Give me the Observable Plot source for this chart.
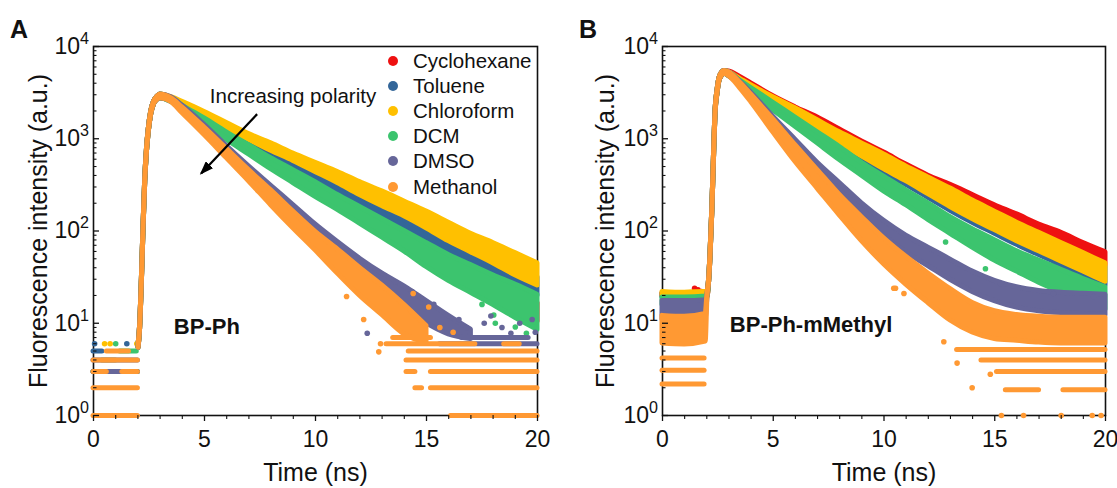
<!DOCTYPE html>
<html><head><meta charset="utf-8">
<script src="https://cdn.jsdelivr.net/npm/d3@7"></script>
<script src="https://cdn.jsdelivr.net/npm/@observablehq/plot@0.6"></script>
<style>
body{margin:0;background:#fff;}
#wrap{position:relative;width:1117px;height:488px;font-family:"Liberation Sans",Arial,sans-serif;color:#111;overflow:hidden;}
.panel{position:absolute;top:0;}
.letter{position:absolute;font-weight:bold;font-size:25px;line-height:25px;}
.legend{position:absolute;left:388px;top:48px;font-size:20.5px;}
.legend div{height:25.2px;display:flex;align-items:center;white-space:nowrap;}
.legend span.dot{width:10px;height:10px;border-radius:50%;display:inline-block;margin-right:15px;}
</style></head><body>
<div id="wrap">
  <div id="pA" class="panel" style="left:0"></div>
  <div id="pB" class="panel" style="left:560px"></div>
  <div class="letter" style="left:10px;top:17px">A</div>
  <div class="letter" style="left:579px;top:17px">B</div>
  <div class="legend" id="legend"></div>
</div>
<script>
// ---------- categories / colours ----------
const solvents = ["Cyclohexane","Toluene","Chloroform","DCM","DMSO","Methanol"];
const colors   = ["#ee1111","#336699","#ffc000","#3cc46e","#666699","#ff9933"];

// ---------- axes ----------
const xMajorTicks = [0,5,10,15,20];
const xMinorTicks = [1,2,3,4,6,7,8,9,11,12,13,14,16,17,18,19];
const yMajorTicks = [1,10,100,1000,10000];
const yMinorTicks = [2,3,4,5,6,7,8,9,20,30,40,50,60,70,80,90,200,300,400,500,600,700,800,900,2000,3000,4000,5000,6000,7000,8000,9000];

// ---------- decay grid (ns) shared by both panels ----------
const decayTimes = [3,3.5,4,5,6,7,8,9,10,11,12,13,14,15,16,17,18,19,20];

// ---------- Panel A : BP-Ph (values are log10 counts: centre and spread) ----------
const riseTimesA = [2.03,2.1,2.18,2.25,2.33,2.41,2.49,2.6,2.73,2.88];
const riseLogA   = [0.75,0.96,1.47,2.01,2.55,2.88,3.09,3.28,3.39,3.44];
const A_Cyclohexane    = [3.46,3.42,3.34,3.19,3.03,2.88,2.73,2.59,2.45,2.31,2.17,2.03,1.89,1.74,1.60,1.48,1.36,1.24,1.12];
const A_Cyclohexane_sd = [0.01,0.01,0.01,0.02,0.02,0.03,0.03,0.04,0.04,0.05,0.05,0.06,0.06,0.07,0.08,0.08,0.09,0.10,0.10];
const A_Toluene        = [3.46,3.42,3.36,3.23,3.09,2.95,2.82,2.70,2.57,2.44,2.31,2.18,2.05,1.92,1.80,1.69,1.59,1.49,1.40];
const A_Toluene_sd     = [0.02,0.02,0.02,0.03,0.03,0.04,0.04,0.05,0.05,0.06,0.06,0.07,0.07,0.08,0.08,0.09,0.09,0.10,0.10];
const A_Chloroform     = [3.46,3.43,3.38,3.26,3.14,3.02,2.91,2.80,2.69,2.58,2.46,2.35,2.24,2.12,1.99,1.87,1.76,1.64,1.53];
const A_Chloroform_sd  = [0.02,0.02,0.02,0.03,0.03,0.03,0.04,0.04,0.05,0.06,0.07,0.08,0.08,0.09,0.10,0.10,0.11,0.12,0.12];
const A_DCM            = [3.46,3.42,3.34,3.19,3.03,2.88,2.73,2.59,2.45,2.31,2.17,2.03,1.89,1.74,1.60,1.48,1.36,1.24,1.12];
const A_DCM_sd         = [0.02,0.02,0.02,0.03,0.04,0.05,0.06,0.07,0.08,0.08,0.09,0.10,0.11,0.13,0.14,0.15,0.16,0.18,0.19];
const A_DMSO           = [3.46,3.43,3.34,3.12,2.89,2.66,2.44,2.22,2.00,1.80,1.61,1.44,1.29,1.12,0.98,0.88];
const A_DMSO_sd        = [0.02,0.02,0.02,0.03,0.03,0.04,0.05,0.06,0.07,0.08,0.09,0.10,0.11,0.12,0.10,0.05];
const A_Methanol       = [3.46,3.42,3.31,3.08,2.84,2.60,2.36,2.12,1.89,1.67,1.45,1.25,1.04,0.88];
const A_Methanol_sd    = [0.02,0.02,0.03,0.04,0.05,0.06,0.08,0.09,0.10,0.13,0.15,0.16,0.16,0.09];
// quantised count rows: [solvent index, counts, t start, t end]
const A_rows = [
  [1,3,0,2.0],[1,5,0,0.4],[3,3,0,2.0],[3,5,1.2,1.95],[2,4,0.4,1.0],[4,3,0,2.0],[4,4,0,2.0],
  [5,1,0,2.0],[5,2,0,2.0],[5,3,0,0.6],[5,3,1.3,2.0],[5,4,0,2.0],[5,5,0.6,1.6],
  [4,6,15.6,20],[4,7,16.6,19.6],
  [5,1,16.1,20],[5,2,14.5,14.8],[5,2,15.2,20],[5,3,14.1,14.5],[5,3,15.2,20],[5,4,14.1,20],[5,5,14.2,20],
  [5,6,13.2,17.2],[5,6,18.5,19.2],[5,7,13.5,15.2]
];
// isolated points: [solvent index, t, counts]
const A_points = [
  [1,0.05,6],[2,0.5,6],[2,0.75,6],[3,1.0,6],[1,1.5,6],[2,1.95,6],
  [1,17.3,38],[1,19.4,22],
  [3,17.5,16],[3,18.03,12.3],[3,18.1,10],[3,19.0,9.1],[3,19.5,7.8],
  [4,12.33,7.8],[4,13.6,28],[4,14.35,22],[4,15.33,16],[4,16.46,11],[4,16.8,9],[4,17.6,10],[4,17.9,12],
  [4,18.4,9],[4,18.8,7.8],[4,19.2,10],[4,19.76,11],[4,19.9,8],
  [5,11.4,19.5],[5,12.17,11],[5,12.85,4.9],[5,12.93,6],[5,14.4,21],[5,15.1,15],[5,15.6,9],[5,16.2,8]
];

// ---------- Panel B : BP-Ph-mMethyl ----------
const preTimesB  = [0,1,1.95];
const riseTimesB = [2.03,2.1,2.17,2.25,2.32,2.4,2.48,2.56,2.66,2.8];
const riseLogB   = [1.30,1.45,1.75,2.23,2.77,3.31,3.50,3.63,3.69,3.72];
const B_pre_Cyclohexane = [1.31,1.31,1.32];
const B_pre_Toluene     = [1.30,1.30,1.31];
const B_pre_Chloroform  = [1.32,1.31,1.32];
const B_pre_DCM         = [1.24,1.24,1.25];
const B_pre_DMSO        = [1.14,1.14,1.15];
const B_pre_Methanol    = [0.93,0.92,0.95];
const B_pre_sd          = [0.015,0.02,0.02,0.04,0.10,0.15];
const B_Cyclohexane    = [3.71,3.65,3.58,3.44,3.32,3.20,3.07,2.94,2.81,2.68,2.56,2.45,2.34,2.23,2.12,2.01,1.91,1.80,1.70];
const B_Cyclohexane_sd = [0.02,0.02,0.02,0.02,0.02,0.03,0.03,0.03,0.04,0.04,0.04,0.05,0.05,0.05,0.06,0.06,0.07,0.07,0.07];
const B_Toluene        = [3.70,3.62,3.53,3.39,3.25,3.11,2.97,2.84,2.71,2.58,2.45,2.32,2.19,2.07,1.95,1.84,1.73,1.62,1.51];
const B_Toluene_sd     = [0.02,0.02,0.03,0.03,0.04,0.05,0.06,0.07,0.08,0.08,0.09,0.10,0.10,0.10,0.10,0.10,0.10,0.10,0.10];
const B_Chloroform     = [3.70,3.63,3.55,3.42,3.29,3.15,3.01,2.88,2.75,2.62,2.49,2.36,2.23,2.11,1.99,1.88,1.77,1.66,1.55];
const B_Chloroform_sd  = [0.02,0.02,0.03,0.03,0.04,0.05,0.06,0.07,0.08,0.08,0.09,0.10,0.10,0.10,0.10,0.10,0.10,0.10,0.10];
const B_DCM            = [3.70,3.61,3.52,3.35,3.18,3.01,2.84,2.67,2.51,2.36,2.21,2.06,1.92,1.79,1.67,1.56,1.46,1.36,1.27];
const B_DCM_sd         = [0.02,0.02,0.03,0.04,0.05,0.06,0.07,0.07,0.08,0.08,0.09,0.09,0.10,0.11,0.11,0.12,0.12,0.12,0.12];
const B_DMSO           = [3.70,3.60,3.47,3.20,2.94,2.67,2.44,2.22,2.03,1.86,1.72,1.58,1.45,1.35,1.28,1.24,1.22,1.21,1.20];
const B_DMSO_sd        = [0.02,0.02,0.03,0.04,0.05,0.07,0.08,0.08,0.08,0.09,0.10,0.11,0.11,0.11,0.11,0.11,0.11,0.11,0.11];
const B_Methanol       = [3.70,3.58,3.44,3.14,2.84,2.56,2.28,2.02,1.78,1.57,1.38,1.20,1.06,0.98,0.95,0.93,0.92,0.92,0.92];
const B_Methanol_sd    = [0.02,0.03,0.04,0.07,0.09,0.10,0.11,0.13,0.14,0.15,0.16,0.17,0.16,0.15,0.14,0.14,0.14,0.14,0.14];
const B_rows = [
  [5,2.2,0,1.9],[5,3.1,0,1.9],[5,4.2,0,1.9],
  [5,5.2,13.3,20],[5,4.0,14.4,20],[5,3.0,15.1,20],[5,1.9,15.5,17.0],[5,1.9,18.1,20]
];
const B_points = [
  [0,1.45,24],[0,1.6,23],[0,1.75,22],
  [1,17.07,45],[1,17.65,43],[1,19.46,25],
  [3,12.78,76],[3,14.63,81],[3,14.58,39],
  [4,15.26,27],[4,17.65,21],[4,19.46,19.5],
  [5,10.44,24],[5,10.52,24],[5,10.9,21],[5,12.7,6.3],[5,13.3,3.7],[5,13.98,2.0],[5,14.8,2.8],
  [5,15.3,1],[5,16.3,1],[5,18.0,1],[5,19.4,1],[5,19.8,1]
];

// ---------- annotation text ----------
const yTitle = "Fluorescence intensity (a.u.)";
const xTitle = "Time (ns)";
const A_annot = [{t:5.24, v:2845, label:"Increasing polarity"}];
const A_arrow = [{t1:7.37, v1:1849, t2:4.85, v2:421}];
const A_name = [{t:3.62, v:9.2, label:"BP-Ph"}];
const B_name = [{t:3.04, v:9.6, label:"BP-Ph-mMethyl"}];

// ---------- build band tables ----------
function band(pre, preSd, riseT, riseC, dec, decSd) {
  const pts = [];
  if (pre) pre.forEach((c, i) => pts.push({t: preTimesB[i], c, s: preSd}));
  riseT.forEach((t, i) => pts.push({t, c: riseC[i], s: 0.015}));
  dec.forEach((c, i) => pts.push({t: decayTimes[i], c, s: decSd[i]}));
  return pts.map(p => ({t: p.t, lo: 10 ** (p.c - p.s), hi: 10 ** (p.c + p.s)}));
}
const bandsA = [
  band(null,0,riseTimesA,riseLogA,A_Cyclohexane,A_Cyclohexane_sd),
  band(null,0,riseTimesA,riseLogA,A_Toluene,A_Toluene_sd),
  band(null,0,riseTimesA,riseLogA,A_Chloroform,A_Chloroform_sd),
  band(null,0,riseTimesA,riseLogA,A_DCM,A_DCM_sd),
  band(null,0,riseTimesA,riseLogA,A_DMSO,A_DMSO_sd),
  band(null,0,riseTimesA,riseLogA,A_Methanol,A_Methanol_sd)
];
const bandsB = [
  band(B_pre_Cyclohexane,B_pre_sd[0],riseTimesB,riseLogB,B_Cyclohexane,B_Cyclohexane_sd),
  band(B_pre_Toluene,B_pre_sd[1],riseTimesB,riseLogB,B_Toluene,B_Toluene_sd),
  band(B_pre_Chloroform,B_pre_sd[2],riseTimesB,riseLogB,B_Chloroform,B_Chloroform_sd),
  band(B_pre_DCM,B_pre_sd[3],riseTimesB,riseLogB,B_DCM,B_DCM_sd),
  band(B_pre_DMSO,B_pre_sd[4],riseTimesB,riseLogB,B_DMSO,B_DMSO_sd),
  band(B_pre_Methanol,B_pre_sd[5],riseTimesB,riseLogB,B_Methanol,B_Methanol_sd)
];

const FONT = "'Liberation Sans', Arial, Helvetica, sans-serif";

function makePanel(bands, rows, points, opts) {
  const marks = [Plot.frame({stroke: "#111", strokeWidth: 1.6})];
  solvents.forEach((name, i) => {
    const col = colors[i];
    marks.push(Plot.areaY(bands[i], {x: "t", y1: "lo", y2: "hi", fill: col, stroke: col,
      strokeWidth: 5, strokeLinejoin: "round", curve: "monotone-x"}));
    marks.push(Plot.ruleY(rows.filter(r => r[0] === i), {y: r => r[1], x1: r => r[2], x2: r => r[3],
      stroke: col, strokeWidth: 5, strokeLinecap: "round"}));
    marks.push(Plot.dot(points.filter(p => p[0] === i), {x: p => p[1], y: p => p[2], r: 2.8, fill: col}));
  });
  marks.push(
    Plot.axisY({ticks: yMajorTicks, tickSize: -6, tickFormat: () => "", strokeWidth: 1.3, label: null}),
    Plot.axisY({ticks: yMinorTicks, tickSize: -3.5, tickFormat: () => "", strokeWidth: 1.1, label: null}),
    Plot.axisY({ticks: yMajorTicks, tickSize: 0, tickPadding: 4.5, fontSize: 23,
      tickFormat: d => "10|" + Math.round(Math.log10(d)), label: null}),
    Plot.axisX({ticks: xMajorTicks, tickSize: 6, tickPadding: 9, fontSize: 23, strokeWidth: 1.3, label: null}),
    Plot.axisX({ticks: xMinorTicks, tickSize: 4, tickFormat: () => "", strokeWidth: 1.1, label: null}),
    Plot.text([yTitle], {text: d => d, frameAnchor: "left", dx: opts.yTitleDx, rotate: -90,
      fontSize: 25, textAnchor: "middle", lineAnchor: "middle"}),
    Plot.text([xTitle], {text: d => d, frameAnchor: "bottom", dy: 57, fontSize: 25,
      textAnchor: "middle", lineAnchor: "middle"}),
    Plot.text(opts.name, {x: "t", y: "v", text: "label", textAnchor: "start", lineAnchor: "middle",
      fontSize: 22, fontWeight: "bold"})
  );
  if (opts.annot) {
    marks.push(
      Plot.text(opts.annot, {x: "t", y: "v", text: "label", textAnchor: "start", lineAnchor: "middle", fontSize: 20.5}),
      Plot.link(opts.arrow, {x1: "t1", y1: "v1", x2: "t2", y2: "v2", stroke: "#000", strokeWidth: 2.2})
    );
  }
  const svg = Plot.plot({
    width: opts.width, height: 488,
    marginLeft: opts.ml, marginRight: opts.mr, marginTop: 46, marginBottom: 73,
    x: {domain: [0, 20]},
    y: {type: "log", domain: [1, 10000]},
    style: {fontFamily: FONT, color: "#111", background: "transparent", overflow: "visible"},
    marks
  });
  // superscript exponents on the log axis
  const ns = "http://www.w3.org/2000/svg";
  svg.querySelectorAll("text").forEach(t => {
    const m = /^10\|(\d)$/.exec(t.textContent);
    if (m) {
      t.textContent = "";
      const a = document.createElementNS(ns, "tspan"); a.textContent = "10"; t.appendChild(a);
      const b = document.createElementNS(ns, "tspan"); b.textContent = m[1];
      b.setAttribute("dy", "-0.62em"); b.setAttribute("font-size", "0.7em"); t.appendChild(b);
    }
  });
  // filled arrowhead
  if (opts.annot) {
    const defs = document.createElementNS(ns, "defs");
    defs.innerHTML = '<marker id="ahead" viewBox="0 -5 14 10" refX="12" refY="0" markerWidth="14" markerHeight="10" markerUnits="userSpaceOnUse" orient="auto"><path d="M0,-5L14,0L0,5Z" fill="#000"/></marker>';
    svg.insertBefore(defs, svg.firstChild);
    svg.querySelectorAll('g[aria-label="link"] path').forEach(p => p.setAttribute("marker-end", "url(#ahead)"));
  }
  return svg;
}

document.getElementById("pA").appendChild(makePanel(bandsA, A_rows, A_points,
  {width: 560, ml: 93, mr: 23, yTitleDx: -55, name: A_name, annot: A_annot, arrow: A_arrow}));
document.getElementById("pB").appendChild(makePanel(bandsB, B_rows, B_points,
  {width: 557, ml: 102, mr: 12, yTitleDx: -57, name: B_name}));

// legend (panel A, inside frame)
const leg = document.getElementById("legend");
solvents.forEach((s, i) => {
  const row = document.createElement("div");
  row.innerHTML = `<span class="dot" style="background:${colors[i]}"></span>${s}`;
  leg.appendChild(row);
});
</script>
</body></html>
